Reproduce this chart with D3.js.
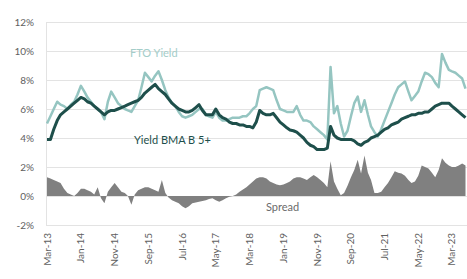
<!DOCTYPE html>
<html lang="en">
<head>
<meta charset="utf-8">
<title>FTO yield vs BMA</title>
<style>
  body { margin: 0; background: #fff; }
  svg text { font-family: Lato, "Open Sans", sans-serif; }
  .grid line { stroke: #e3e3e3; stroke-width: 1; }
  .tick-y { font-size: 10px; fill: #606060; }
  .tick-x { font-size: 10px; fill: #606060; }
</style>
</head>
<body>
<div id="chart"></div>
<script src="https://cdn.jsdelivr.net/npm/d3@7"></script>
<script>
var width = 467, height = 279;

// monthly points, first one is Mar-13
var startMonth = new Date(2013, 2, 1);

var ftoYield = [
  5.0, 5.5, 6.0, 6.5, 6.3, 6.2, 6.0, 6.3, 6.5, 7.0,
  7.6, 7.2, 6.8, 6.5, 6.2, 6.0, 5.8, 5.3, 6.5, 7.2,
  6.8, 6.4, 6.2, 6.0, 5.9, 5.8, 6.2, 6.6, 7.5, 8.5,
  8.2, 7.9, 8.3, 8.6, 8.0, 7.3, 6.8, 6.4, 6.2, 5.8,
  5.5, 5.4, 5.5, 5.6, 5.8, 6.0, 6.0, 5.6, 5.5, 5.4,
  5.8, 5.4, 5.2, 5.2, 5.3, 5.4, 5.4, 5.4, 5.5, 5.5,
  5.7, 6.0, 6.2, 7.3, 7.4, 7.5, 7.4, 7.3, 6.6, 6.0,
  5.9, 5.8, 5.8, 5.8, 6.2, 5.6, 5.2, 5.2, 5.1, 4.8,
  4.6, 4.4, 4.2, 3.9, 8.9, 5.7, 6.2, 5.0, 4.1, 4.5,
  5.5, 6.4, 6.85, 5.8, 6.6, 5.6, 4.8, 4.4, 4.1, 4.6,
  5.2, 5.8, 6.4, 7.0, 7.5, 7.7, 7.9, 7.2, 6.6, 6.9,
  7.2, 7.9, 8.5, 8.4, 8.2, 7.8, 7.5, 9.8, 9.2, 8.7,
  8.6, 8.5, 8.3, 8.1, 7.4
];

var bmaYield = [
  3.9, 3.9, 4.6, 5.2, 5.6, 5.8, 6.0, 6.2, 6.4, 6.6,
  6.8, 6.7, 6.5, 6.4, 6.2, 6.0, 5.8, 5.6, 5.8, 5.9,
  5.9, 6.0, 6.1, 6.2, 6.3, 6.4, 6.5, 6.6, 6.8, 7.1,
  7.3, 7.5, 7.7, 7.4, 7.2, 7.0, 6.7, 6.4, 6.2, 6.0,
  5.9, 5.8, 5.8, 5.9, 6.1, 6.3, 5.9, 5.6, 5.6, 5.6,
  6.0, 5.6, 5.4, 5.3, 5.1, 5.0, 5.0, 4.9, 4.9, 4.8,
  4.8, 4.7, 5.1, 5.9, 5.7, 5.6, 5.6, 5.7, 5.4, 5.1,
  4.9, 4.7, 4.55, 4.5, 4.4, 4.2, 4.0, 3.7, 3.5, 3.4,
  3.2, 3.2, 3.2, 3.3, 4.8, 4.2, 4.0, 3.9, 3.9, 3.9,
  3.9, 3.8, 3.6, 3.5, 3.7, 3.8, 4.0, 4.1, 4.2, 4.4,
  4.6, 4.7, 4.9, 5.0, 5.1, 5.3, 5.4, 5.5, 5.6, 5.6,
  5.7, 5.7, 5.8, 5.8, 6.0, 6.2, 6.3, 6.4, 6.4, 6.4,
  6.2, 6.0, 5.8, 5.6, 5.4
];

var spread = [
  1.3, 1.2, 1.1, 1.0, 0.9, 0.5, 0.2, 0.1, 0.0, 0.2,
  0.5, 0.5, 0.4, 0.3, 0.1, 0.6, -0.15, -0.5, 0.3, 0.6,
  0.9, 0.6, 0.3, 0.2, 0.0, -0.6, 0.1, 0.4, 0.5, 0.6,
  0.6, 0.5, 0.4, 0.3, 1.1, 0.2, -0.1, -0.3, -0.4, -0.5,
  -0.7, -0.85, -0.7, -0.5, -0.45, -0.4, -0.35, -0.3, -0.2, -0.15,
  -0.3, -0.4, -0.3, -0.15, -0.05, 0.0, 0.1, 0.3, 0.45, 0.6,
  0.8, 1.0, 1.2, 1.3, 1.3, 1.2, 1.0, 0.9, 0.8, 0.75,
  0.8, 0.9, 1.0, 1.2, 1.3, 1.3, 1.2, 1.1, 1.3, 1.45,
  1.3, 1.1, 0.9, 0.6, 2.4, 1.0, 0.5, 0.05, 0.2, 0.7,
  1.3, 1.8, 2.5, 1.55, 2.8, 1.6, 1.1, 0.2, 0.2, 0.3,
  0.6, 0.9, 1.3, 1.7, 1.6, 1.55, 1.4, 1.1, 0.9, 1.0,
  1.4, 2.1, 2.0, 1.9, 1.6, 1.3, 1.8, 2.6, 2.3, 2.1,
  2.0, 2.0, 2.1, 2.25, 2.1
];

var yTicks = [-2, 0, 2, 4, 6, 8, 10, 12];
var xTickLabels = ["Mar-13", "Jan-14", "Nov-14", "Sep-15", "Jul-16", "May-17", "Mar-18",
                   "Jan-19", "Nov-19", "Sep-20", "Jul-21", "May-22", "Mar-23"];

var colFto = "#95c5c1", colBma = "#1e4f4b", colSpread = "#808080";

var parseLabel = d3.timeParse("%b-%y");
function monthAt(i) { return d3.timeMonth.offset(startMonth, i); }

var x = d3.scaleTime()
    .domain([startMonth, monthAt(ftoYield.length - 1)])
    .range([47, 465.5]);
var y = d3.scaleLinear().domain([-2, 12]).range([225, 22]);

var svg = d3.select("#chart").append("svg")
    .attr("width", width)
    .attr("height", height);

// gridlines
svg.append("g").attr("class", "grid")
  .selectAll("line").data(yTicks).enter().append("line")
    .attr("x1", 46).attr("x2", width)
    .attr("y1", function(d){ return y(d) + 0.5; })
    .attr("y2", function(d){ return y(d) + 0.5; });

svg.append("line")
    .attr("x1", 46.5).attr("x2", 46.5)
    .attr("y1", y(12)).attr("y2", y(-2))
    .attr("stroke", "#e3e3e3");

svg.append("g").selectAll("text").data(yTicks).enter().append("text")
    .attr("class", "tick-y")
    .attr("x", 34).attr("y", function(d){ return y(d) + 3.5; })
    .attr("text-anchor", "end")
    .text(function(d){ return d + "%"; });

svg.append("g").selectAll("text").data(xTickLabels).enter().append("text")
    .attr("class", "tick-x")
    .attr("text-anchor", "end")
    .attr("transform", function(d){ return "translate(" + (x(parseLabel(d)) + 3.5) + ",233) rotate(-90)"; })
    .text(function(d){ return d; });

// spread area
var area = d3.area()
    .x(function(d, i){ return x(monthAt(i)); })
    .y0(y(0))
    .y1(function(d){ return y(d); });

svg.append("path").datum(spread)
    .attr("d", area)
    .attr("fill", colSpread);

var line = d3.line()
    .x(function(d, i){ return x(monthAt(i)); })
    .y(function(d){ return y(d); });

svg.append("path").datum(ftoYield)
    .attr("d", line)
    .attr("fill", "none")
    .attr("stroke", colFto)
    .attr("stroke-width", 2.5)
    .attr("stroke-linejoin", "round");

svg.append("path").datum(bmaYield)
    .attr("d", line)
    .attr("fill", "none")
    .attr("stroke", colBma)
    .attr("stroke-width", 3)
    .attr("stroke-linejoin", "round");

// series labels
svg.append("text").attr("x", 130).attr("y", 57)
    .attr("font-size", 11).attr("fill", "#a3cdc9").text("FTO Yield");
svg.append("text").attr("x", 134).attr("y", 144)
    .attr("font-size", 11).attr("fill", colBma).text("Yield BMA B 5+");
svg.append("text").attr("x", 266).attr("y", 211)
    .attr("font-size", 11).attr("fill", "#6b6b6b").text("Spread");
</script>
</body>
</html>
